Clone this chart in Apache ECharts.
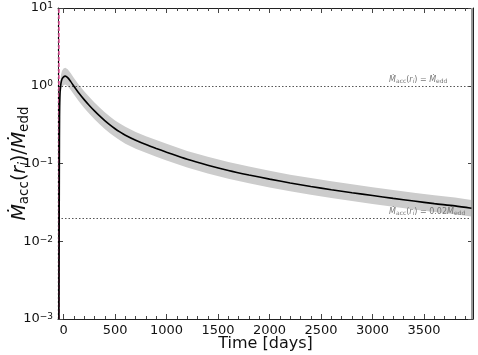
<!DOCTYPE html>
<html>
<head>
<meta charset="utf-8">
<script src="https://cdn.jsdelivr.net/npm/echarts@6.0.0/dist/echarts.min.js"></script>
<style>
  html, body { margin: 0; padding: 0; background: #fff; }
  #main { width: 478px; height: 355px; }
</style>
</head>
<body>
<div id="main"></div>
<script>
// time since disruption (days) and accretion rate at r_i in units of Eddington
var times  = [-45, -43, -41, -39, -36, -32, -25, -15, 0, 16, 40, 70, 97, 150, 200, 250, 300, 350, 400, 450, 500, 550, 600, 700, 800, 900, 1000,
              1200, 1400, 1600, 1800, 2000, 2200, 2400, 2600, 2800, 3000, 3200, 3400, 3600, 3800, 3960];
var mdot   = [0.001, 0.01, 0.1, 0.4, 0.7, 0.9, 1.08, 1.22, 1.30, 1.33, 1.27, 1.13, 1.00, 0.80, 0.663, 0.558, 0.475, 0.409, 0.356, 0.314, 0.280, 0.253, 0.231, 0.199, 0.175, 0.156, 0.140,
              0.1135, 0.0951, 0.0815, 0.0713, 0.063, 0.0562, 0.0507, 0.046, 0.0421, 0.0387, 0.0356, 0.0329, 0.0305, 0.0285, 0.0266];
// grey uncertainty band
var bandHi = [0.00128, 0.0128, 0.128, 0.512, 0.896, 1.152, 1.382, 1.562, 1.664, 1.702, 1.626, 1.446, 1.28, 1.024, 0.849, 0.714, 0.608, 0.524, 0.456, 0.402, 0.358, 0.324, 0.296, 0.255, 0.224, 0.200, 0.179,
              0.145, 0.1217, 0.1043, 0.0913, 0.0806, 0.0719, 0.0649, 0.0589, 0.0539, 0.0495, 0.0456, 0.0421, 0.0390, 0.0365, 0.0340];
var bandLo = [0.00078, 0.0078, 0.078, 0.3125, 0.547, 0.703, 0.844, 0.953, 1.016, 1.039, 0.992, 0.883, 0.781, 0.625, 0.518, 0.436, 0.371, 0.319, 0.278, 0.245, 0.219, 0.198, 0.180, 0.155, 0.137, 0.122, 0.109,
              0.0887, 0.0743, 0.0637, 0.0557, 0.0492, 0.0439, 0.0396, 0.0359, 0.0329, 0.0302, 0.0278, 0.0257, 0.0238, 0.0223, 0.0208];

// reference levels and vertical markers
var eddLevels = [1, 0.02];
var startLine = -48;      // black dotted
var disruptLine = -42;    // pink dashed
var endLine = 3962;       // grey, end of data
var annotX = 3160;

var xMin = -54, xMax = 3975;
var xMajor = [0, 500, 1000, 1500, 2000, 2500, 3000, 3500];
var xMinor = [100, 200, 300, 400, 600, 700, 800, 900, 1100, 1200, 1300, 1400, 1600, 1700, 1800, 1900,
              2100, 2200, 2300, 2400, 2600, 2700, 2800, 2900, 3100, 3200, 3300, 3400, 3600, 3700, 3800, 3900];

var font = 'DejaVu Sans';
var axisCol = '#222';

var myChart = echarts.init(document.getElementById('main'), null, { renderer: 'canvas' });

function xAx(pos, ticks, len, showLine, showLabel) {
    return {
        type: 'value', position: pos, min: xMin, max: xMax,
        axisLine: { show: showLine, onZero: false, lineStyle: { color: axisCol, width: 1 } },
        axisTick: { show: true, inside: true, length: len, customValues: ticks, lineStyle: { color: '#444' } },
        axisLabel: {
            show: showLabel, customValues: xMajor, margin: 5, color: '#111', fontFamily: font, fontSize: 13,
            formatter: function (v) { return String(v); }
        },
        splitLine: { show: false }
    };
}

var supFmt = function (v) {
    var e = Math.round(Math.log10(v));
    return '10{sup|' + (e < 0 ? '\u2212' + (-e) : e) + '}';
};

var option = {
    animation: false,
    textStyle: { fontFamily: font },
    grid: { left: 58, right: 5, top: 8, bottom: 36, containLabel: false, outerBoundsMode: 'none' },
    xAxis: [
        Object.assign(xAx('bottom', xMajor, 5, true, true), {
            name: 'Time [days]', nameLocation: 'middle', nameGap: 17, nameMoveOverlap: false,
            nameTextStyle: { fontSize: 16, color: '#111', fontFamily: font }
        }),
        xAx('bottom', xMinor, 3, false, false),
        xAx('top', xMajor, 5, true, false),
        xAx('top', xMinor, 3, false, false)
    ],
    yAxis: [
        {
            type: 'log', logBase: 10, min: 0.001, max: 10, position: 'left',
            axisLine: { show: true, onZero: false, lineStyle: { color: axisCol } },
            axisTick: { inside: true, length: 5, lineStyle: { color: '#444' } },
            axisLabel: {
                margin: 5, color: '#111', fontSize: 13, formatter: supFmt,
                rich: { sup: { fontSize: 9, verticalAlign: 'top', color: '#111' } }
            },
            splitLine: { show: false },
            name: '{m|\u1E40}{s|acc}{n|(}{m|r}{si|i}{n|)/}{m|\u1E40}{s|edd}',
            nameLocation: 'middle', nameRotate: 90, nameGap: 27, nameMoveOverlap: false,
            nameTextStyle: {
                color: '#111',
                rich: {
                    m: { fontSize: 19, fontStyle: 'italic', fontFamily: font, color: '#111', lineHeight: 22 },
                    n: { fontSize: 19, fontFamily: font, color: '#111', lineHeight: 22 },
                    s: { fontSize: 13.5, fontFamily: font, color: '#111', verticalAlign: 'bottom', lineHeight: 22 },
                    si: { fontSize: 13.5, fontStyle: 'italic', fontFamily: font, color: '#111', verticalAlign: 'bottom', lineHeight: 22 }
                }
            }
        },
        {
            type: 'log', logBase: 10, min: 0.001, max: 10, position: 'right',
            axisLine: { show: true, onZero: false, lineStyle: { color: axisCol } },
            axisTick: { inside: true, length: 5, lineStyle: { color: '#444' } },
            axisLabel: { show: false },
            splitLine: { show: false }
        }
    ],
    series: [
        {
            // uncertainty band as a polygon through the axes
            type: 'custom',
            xAxisIndex: 0, yAxisIndex: 0,
            clip: true,
            silent: true,
            z: 1,
            data: [[0, 1]],
            renderItem: function (params, api) {
                var pts = [];
                for (var i = 0; i < times.length; i++) pts.push(api.coord([times[i], bandHi[i]]));
                for (var j = times.length - 1; j >= 0; j--) pts.push(api.coord([times[j], bandLo[j]]));
                var cs = params.coordSys;
                return {
                    type: 'group',
                    clipPath: { type: 'rect', shape: { x: cs.x, y: cs.y, width: cs.width, height: cs.height } },
                    children: [{ type: 'polygon', shape: { points: pts }, style: { fill: '#cccccc', stroke: null } }]
                };
            }
        },
        {
            type: 'line',
            xAxisIndex: 0, yAxisIndex: 0,
            data: times.map(function (t, i) { return [t, mdot[i]]; }),
            showSymbol: false,
            smooth: 0.3,
            clip: true,
            z: 5,
            lineStyle: { color: '#000', width: 1.6 },
            markLine: {
                silent: true, symbol: 'none', label: { show: false },
                data: [
                    { yAxis: eddLevels[0], lineStyle: { color: '#555', type: [1.5, 2], width: 1 } },
                    { yAxis: eddLevels[1], lineStyle: { color: '#555', type: [1.5, 2], width: 1 } },
                    { xAxis: startLine, lineStyle: { color: '#000', type: [2, 2], width: 1.2 } },
                    { xAxis: disruptLine, lineStyle: { color: '#e8559f', type: [4, 2], width: 1.5 } },
                    { xAxis: endLine, lineStyle: { color: '#999', type: 'solid', width: 2 } }
                ]
            },
            markPoint: {
                silent: true, symbol: 'circle', symbolSize: 0,
                label: {
                    show: true, position: 'right', distance: 0, offset: [0, -6],
                    color: '#777',
                    rich: {
                        m: { fontSize: 8, fontStyle: 'italic', color: '#777', fontFamily: font, lineHeight: 10 },
                        n: { fontSize: 8, color: '#777', fontFamily: font, lineHeight: 10 },
                        s: { fontSize: 6, color: '#777', fontFamily: font, verticalAlign: 'bottom', lineHeight: 10 },
                        si: { fontSize: 6, fontStyle: 'italic', color: '#777', fontFamily: font, verticalAlign: 'bottom', lineHeight: 10 }
                    }
                },
                data: [
                    { coord: [annotX, eddLevels[0]], label: { formatter: '{m|\u1E40}{s|acc}{n|(}{m|r}{si|i}{n|) = }{m|\u1E40}{s|edd}' } },
                    { coord: [annotX, eddLevels[1]], label: { formatter: '{m|\u1E40}{s|acc}{n|(}{m|r}{si|i}{n|) = 0.02}{m|\u1E40}{s|edd}' } }
                ]
            }
        }
    ]
};

myChart.setOption(option);
</script>
</body>
</html>
